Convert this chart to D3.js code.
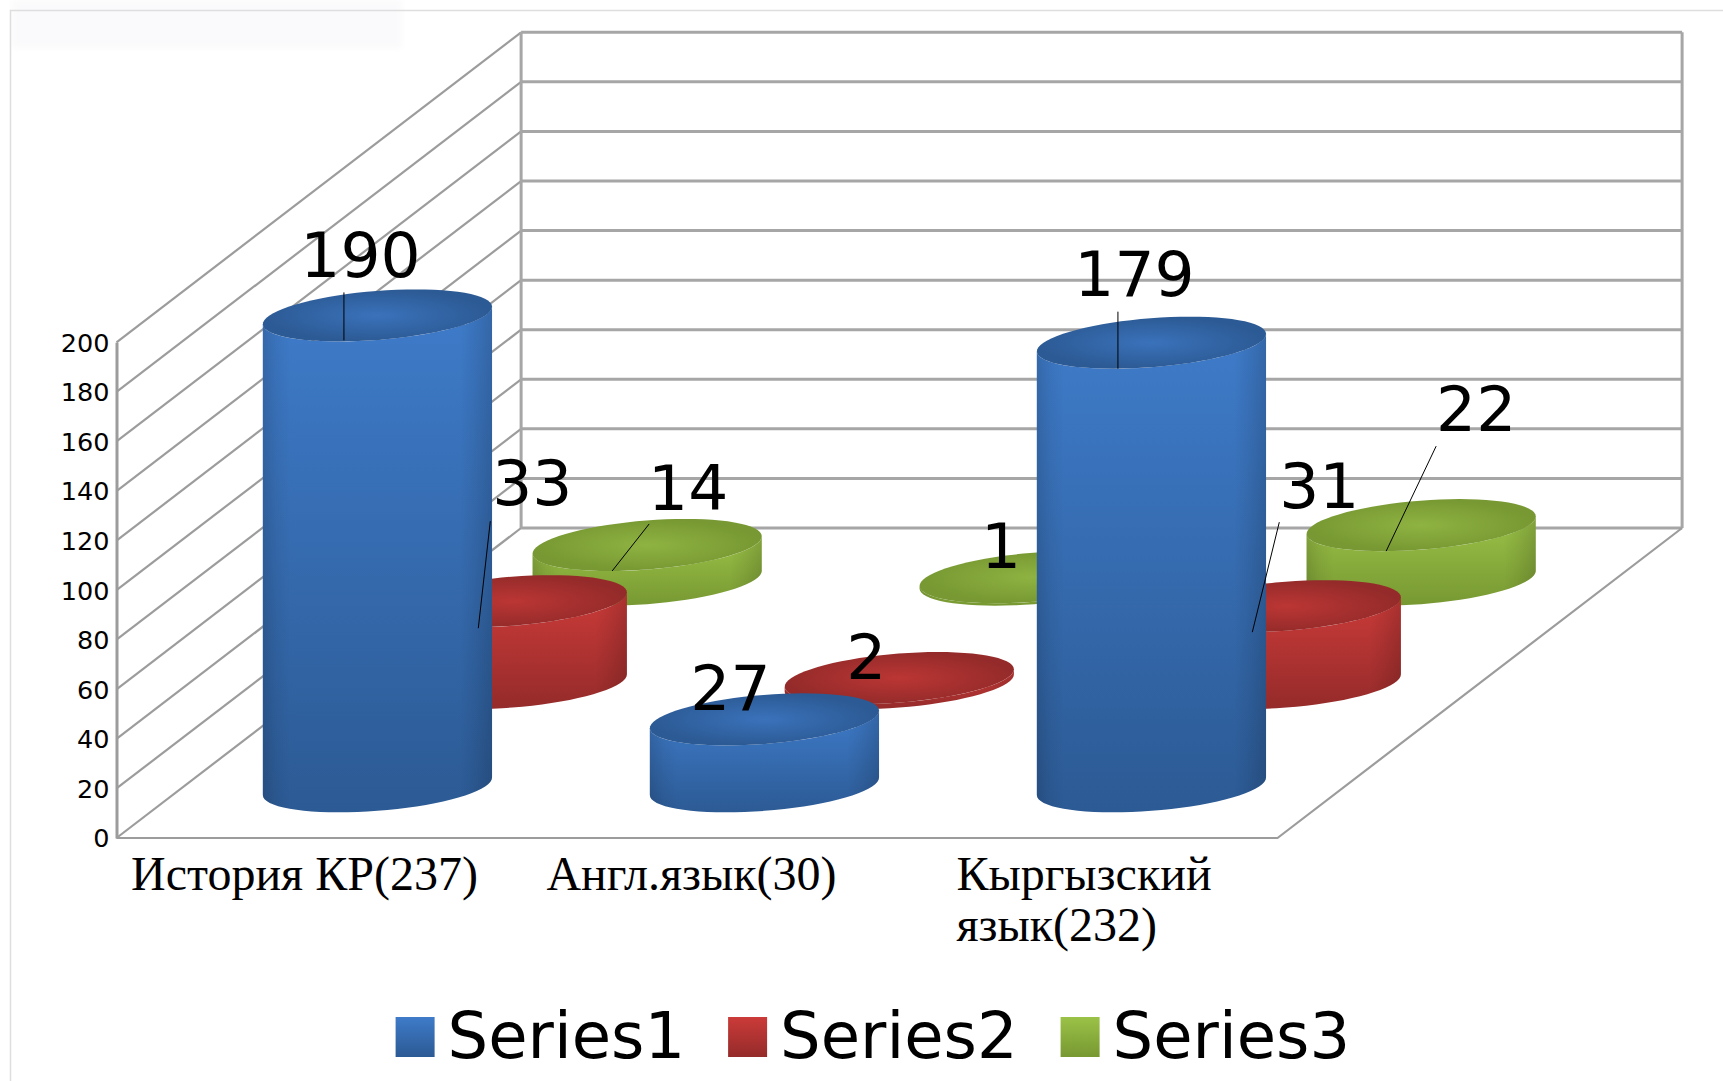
<!DOCTYPE html>
<html>
<head>
<meta charset="utf-8">
<script src="https://cdn.jsdelivr.net/npm/d3@7"></script>
<style>
  html, body { margin: 0; padding: 0; background: #fff; }
  svg { display: block; }
  text { fill: #000; font-family: 'DejaVu Sans', sans-serif; }
  .wall { fill: none; stroke: #9c9c9c; stroke-width: 2.2; }
  .back { fill: none; stroke: #a6a6a6; stroke-width: 3; }
  .y-axis text { font-size: 25.5px; }
  .y-axis path { stroke: #9c9c9c; stroke-width: 3; }
  .cat-label { font-family: 'Liberation Serif', serif; font-size: 48px; }
  .val-label { font-size: 63px; text-anchor: middle; }
  .legend-label { font-size: 64px; }
  .leader { stroke: #000; stroke-width: 1; }
</style>
</head>
<body>
<svg id="chart" width="1723" height="1081"></svg>
<script>
const categories = ['История КР(237)', 'Англ.язык(30)', 'Кыргызский язык(232)']
const seriesNames = ['Series1', 'Series2', 'Series3']
const series1 = [190, 27, 179]
const series2 = [33, 2, 31]
const series3 = [14, 1, 22]
const yTicks = [0, 20, 40, 60, 80, 100, 120, 140, 160, 180, 200]

const seriesValues = [series1, series2, series3]

// offsets from the centre of each cylinder top: [label dx, dy, leader x1, y1, x2, y2]
const labelOffsets = [
  [[-17, -38, -33.5, -23, -33.5, 25], [-34, -9], [-17, -47, -33.5, -31, -33.5, 26]],
  [[20, -96, -22, -80, -34, 27], [-33, 1], [33, -98, -7, -84, -34, 26]],
  [[41, -35, 2, -21, -35, 26], [-33, -9], [55, -94, 15, -79, -35, 26]],
]
const catLines = [['История КР(237)'], ['Англ.язык(30)'], ['Кыргызский', 'язык(232)']]
const catNudge = [-5.5, -5.5, 0]

const colors = [
  { light: '#3e7bc9', mid: '#3a72bb', dark: '#2c5a94' },
  { light: '#cb3b39', mid: '#bb3634', dark: '#942b2a' },
  { light: '#9bc247', mid: '#8fb342', dark: '#779832' },
]

const left = 116.5
const right = 1277.5
const floorY = 838
const topY = 342.3
const depthX = 404.6
const depthY = -310

const svg = d3.select('#chart')
const defs = svg.append('defs')

defs
  .append('filter')
  .attr('id', 'soft')
  .append('feGaussianBlur')
  .attr('stdDeviation', 3)

colors.forEach((c, i) => {
  let body = defs
    .append('linearGradient')
    .attr('id', `body-${i}`)
    .attr('x1', '0%')
    .attr('x2', '0%')
    .attr('y1', '0%')
    .attr('y2', '100%')
  body.append('stop').attr('offset', '0%').attr('stop-color', c.light)
  body.append('stop').attr('offset', '100%').attr('stop-color', c.dark)

  let cap = defs.append('radialGradient').attr('id', `cap-${i}`)
  cap.append('stop').attr('offset', '0%').attr('stop-color', c.mid)
  cap.append('stop').attr('offset', '100%').attr('stop-color', c.dark)
})

let edge = defs
  .append('linearGradient')
  .attr('id', 'edge')
  .attr('x1', '0%')
  .attr('x2', '100%')
  .attr('y1', '0%')
  .attr('y2', '0%')
;[
  [0, 0.14],
  [0.06, 0.05],
  [0.12, 0],
  [0.86, 0],
  [0.92, 0.06],
  [1, 0.16],
].forEach((s) => {
  edge
    .append('stop')
    .attr('offset', s[0])
    .attr('stop-color', '#000')
    .attr('stop-opacity', s[1])
})

// faint smudge and frame of the pasted picture
svg
  .append('rect')
  .attr('x', 12)
  .attr('y', 0)
  .attr('width', 390)
  .attr('height', 48)
  .attr('fill', '#fafafc')
  .attr('filter', 'url(#soft)')
svg
  .append('path')
  .attr('d', 'M10.5,1081V10.5H1723')
  .attr('fill', 'none')
  .attr('stroke', '#dedede')
  .attr('stroke-width', 1.5)

const xScale = d3.scaleBand().domain(d3.range(categories.length)).range([left, right])
const depthScale = d3.scaleBand().domain(d3.range(seriesNames.length)).range([0, 1])
const yScale = d3.scaleLinear().domain([0, 200]).range([floorY, topY])

const wallHeight = (v) => yScale(v) - floorY

// grid on the side wall and the back wall
yTicks.forEach((t) => {
  let y = yScale(t)
  svg
    .append('line')
    .attr('class', 'wall')
    .attr('x1', left)
    .attr('y1', y)
    .attr('x2', left + depthX)
    .attr('y2', y + depthY)
  svg
    .append('line')
    .attr('class', 'back')
    .attr('x1', left + depthX)
    .attr('y1', y + depthY)
    .attr('x2', right + depthX)
    .attr('y2', y + depthY)
})
svg
  .append('path')
  .attr('class', 'back')
  .attr('d', `M${left + depthX},${floorY + depthY}V${topY + depthY}M${right + depthX},${topY + depthY}V${floorY + depthY}`)
svg
  .append('path')
  .attr('class', 'wall')
  .attr('d', `M${right + depthX},${floorY + depthY}L${right},${floorY}H${left}`)

svg
  .append('g')
  .attr('class', 'y-axis')
  .attr('transform', `translate(${left},0)`)
  .call(d3.axisLeft(yScale).tickValues(yTicks).tickSize(0).tickPadding(7))
  .selectAll('text')
  .attr('dy', '0.35em')

// ellipse of the cylinder: circle laid on the sheared floor
const radiusX = xScale.bandwidth() * 0.279
const shearX = depthX * 0.095
const radiusY = depthY * 0.084
const startAngle = Math.atan2(shearX, radiusX)

const ellipsePoint = (cx, cy, t) => [
  cx + radiusX * Math.cos(t) + shearX * Math.sin(t),
  cy + radiusY * Math.sin(t),
]
const line = d3.line()

const capPath = (cx, cy) =>
  line(d3.range(0, 72).map((k) => ellipsePoint(cx, cy, (k / 72) * 2 * Math.PI))) + 'Z'

const bodyPath = (cx, baseY, capY) => {
  let angles = d3.range(0, 37).map((k) => startAngle + Math.PI + (k / 36) * Math.PI)
  let lower = angles.map((t) => ellipsePoint(cx, baseY, t))
  let upper = angles.map((t) => ellipsePoint(cx, capY, t)).reverse()
  return line(lower.concat(upper)) + 'Z'
}

const centres = (s, c) => {
  let d = depthScale(s) + depthScale.bandwidth() / 2
  let cx = xScale(c) + xScale.bandwidth() / 2 + d * depthX
  let baseY = floorY + d * depthY
  return { cx, baseY, capY: baseY + wallHeight(seriesValues[s][c]) }
}

// back row first, so the front row hides it
d3.range(seriesNames.length)
  .reverse()
  .forEach((s) => {
    categories.forEach((name, c) => {
      let p = centres(s, c)
      let g = svg.append('g').attr('class', 'bar')
      let d = bodyPath(p.cx, p.baseY, p.capY)
      g.append('path').attr('d', d).attr('fill', `url(#body-${s})`)
      g.append('path').attr('d', d).attr('fill', 'url(#edge)')
      g.append('path').attr('d', capPath(p.cx, p.capY)).attr('fill', `url(#cap-${s})`)
    })
  })

// value labels and their leader lines
seriesValues.forEach((values, s) => {
  values.forEach((v, c) => {
    let p = centres(s, c)
    let o = labelOffsets[s][c]
    svg
      .append('text')
      .attr('class', 'val-label')
      .attr('x', p.cx + o[0])
      .attr('y', p.capY + o[1])
      .text(v)
    if (o.length > 2) {
      svg
        .append('line')
        .attr('class', 'leader')
        .attr('x1', p.cx + o[2])
        .attr('y1', p.capY + o[3])
        .attr('x2', p.cx + o[4])
        .attr('y2', p.capY + o[5])
    }
  })
})

// category labels, lines left aligned and the block centred on the band
catLines.forEach((lines, c) => {
  let g = svg.append('g')
  let nodes = lines.map((l, i) =>
    g
      .append('text')
      .attr('class', 'cat-label')
      .attr('y', floorY + 52 + i * 51)
      .text(l)
  )
  let w = d3.max(nodes, (n) => n.node().getComputedTextLength())
  let x = xScale(c) + xScale.bandwidth() / 2 - w / 2 + catNudge[c]
  nodes.forEach((n) => n.attr('x', x))
})

const legendX = d3.scalePoint().domain(seriesNames).range([395.6, 1060.6])
seriesNames.forEach((name, s) => {
  svg
    .append('rect')
    .attr('x', legendX(name))
    .attr('y', 1017)
    .attr('width', 39)
    .attr('height', 40)
    .attr('fill', `url(#body-${s})`)
  svg
    .append('text')
    .attr('class', 'legend-label')
    .attr('x', legendX(name) + 52)
    .attr('y', 1058)
    .text(name)
})
</script>
</body>
</html>
